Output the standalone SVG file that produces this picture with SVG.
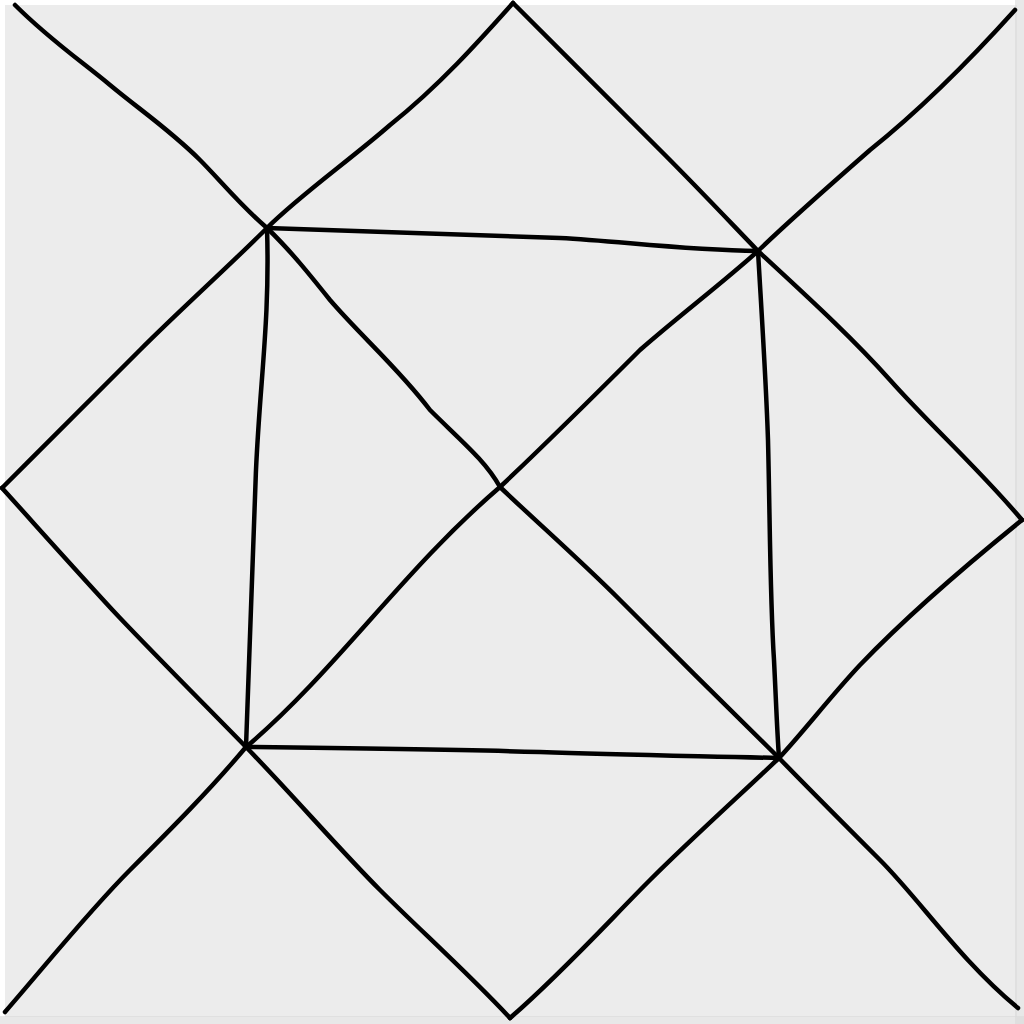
<svg xmlns="http://www.w3.org/2000/svg" width="1024" height="1024" viewBox="0 0 1024 1024">
<defs>
<style>
.ln{fill:none;stroke:#000;stroke-width:4.5;stroke-linecap:round;stroke-linejoin:round}
</style>
</defs>
<rect width="1024" height="1024" fill="#ffffff"/>
<rect x="5" y="5" width="1012" height="1012" fill="#ececec"/>
<rect x="1015" y="0" width="9" height="1024" fill="#d9d9d9" opacity="0.6"/>
<rect x="0" y="1016" width="1024" height="8" fill="#d9d9d9" opacity="0.6"/>
<g id="connectors">
<path class="ln" d="M513,3 C560,50 620,110 660,150 C700,190 730,222 758,251 C800,290 850,335 890,380 C930,425 980,470 1022,520"/>
<path class="ln" d="M1022,520 C970,562 905,618 860,665 C830,697 805,730 779,758 C740,795 690,840 650,880 C610,920 560,975 510,1018"/>
<path class="ln" d="M510,1018 C470,975 420,930 380,890 C340,850 290,792 246,747 C200,700 160,660 120,618 C80,575 40,530 2,488"/>
<path class="ln" d="M2,488 C50,440 100,390 140,350 C180,310 230,265 267,228 C300,195 350,160 390,125 C440,85 480,40 513,3"/>
<path class="ln" d="M267,228 C380,232 480,236 560,238 C620,241 680,250 758,251"/>
<path class="ln" d="M758,251 C762,320 766,380 768,440 C770,520 770,600 774,660 C776,700 777,730 779,758"/>
<path class="ln" d="M779,758 C700,756 620,755 540,752 C440,749 340,748 246,747"/>
<path class="ln" d="M246,747 C250,650 252,560 256,470 C260,380 270,320 267,228"/>
<path class="ln" d="M267,228 C290,250 310,275 330,300 C360,335 400,370 430,410 C460,440 485,460 500,487 C540,525 580,560 620,600 C670,650 730,710 779,758"/>
<path class="ln" d="M758,251 C720,285 680,315 640,350 C600,390 550,440 500,487 C450,530 410,575 370,620 C330,665 290,710 246,747"/>
<path class="ln" d="M267,228 C240,205 220,180 200,160 C170,130 140,110 110,85 C80,60 50,40 15,5"/>
<path class="ln" d="M758,251 C790,220 830,185 870,150 C920,110 970,60 1015,10"/>
<path class="ln" d="M246,747 C210,790 170,830 130,870 C90,910 50,960 5,1012"/>
<path class="ln" d="M779,758 C810,790 850,830 880,860 C920,900 960,960 1018,1008"/>
</g>
</svg>
